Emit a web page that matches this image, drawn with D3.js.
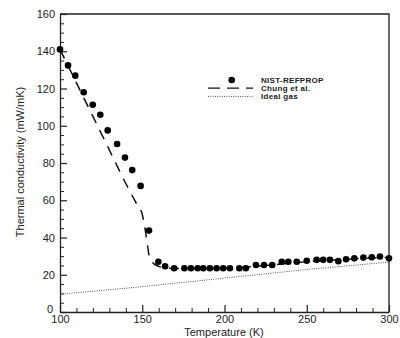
<!DOCTYPE html>
<html>
<head>
<meta charset="utf-8">
<script src="https://cdn.jsdelivr.net/npm/d3@7"></script>
<style>
html,body{margin:0;padding:0;background:#fff;}
svg{display:block;font-family:"Liberation Sans",Arial,Helvetica,sans-serif;}
</style>
</head>
<body>
<svg id="chart" width="400" height="338"></svg>
<script>
// NIST-REFPROP data points
const nistT = [100,104.9,109.3,114.4,119.9,124.5,129,134.7,139.5,143.9,149,154.1,159.8,163.9,169.4,175.6,179.6,183.7,187.1,191.1,195.2,199.2,203.3,209,213,219.1,224,229,234.8,238.8,243.9,250,256,260,264.1,269.2,273.9,278.9,284.4,289.5,294.5,300];
const nistK = [141,132.4,126.9,118,111.3,105.9,97.5,90.2,82.9,76.2,67.7,43.7,27,24.6,23.5,23.5,23.5,23.5,23.5,23.5,23.5,23.5,23.5,23.5,23.5,25.2,25.2,25.2,27,27,27,27.5,28,28,28,27.3,28.3,28.8,29.2,29.4,29.8,28.8];
// Chung et al. curve
const chungT = [100,110,120,130,140,146,150,151,152,153,154,155,157,160,165,170,180,190,200,210,220,230,240,250,260,270,280,290,300];
const chungK = [141,123,105,87,69,59,52.5,48,43,37,31,28,26,24.5,23.6,23.3,23.3,23.4,23.6,24,24.6,25.4,26.2,27,27.6,28.1,28.6,29,29.3];
// Ideal gas curve
const idealT = [100,150,200,228,250,300];
const idealK = [9.5,13.6,18.2,20.8,22.8,26.8];
// Axes
const xMajor = [100,150,200,250,300];
const yMajor = [0,20,40,60,80,100,120,140,160];
const legendLabels = ["NIST-REFPROP","Chung et al.","Ideal gas"];
const xTitle = "Temperature (K)";
const yTitle = "Thermal conductivity (mW/mK)";

const svg = d3.select("#chart");
const x = d3.scaleLinear().domain([100,300]).range([60,389]);
const y = d3.scaleLinear().domain([0,160]).range([312,14]);

const xMinor = d3.range(100,301,10).filter(v => !xMajor.includes(v));
const yMinor = d3.range(0,161,5).filter(v => !yMajor.includes(v));

// frame top/right
svg.append("path")
  .attr("d", `M${x(100)},${y(160)}H${x(300)}V${y(0)}`)
  .attr("fill","none").attr("stroke","#222").attr("stroke-width",1.3);

// minor ticks
svg.append("g").attr("transform",`translate(0,${y(0)})`)
  .call(d3.axisBottom(x).tickValues(xMinor).tickSize(-4).tickFormat(""))
  .call(g => g.select(".domain").remove())
  .selectAll("line").attr("stroke","#222");
svg.append("g").attr("transform",`translate(${x(100)},0)`)
  .call(d3.axisLeft(y).tickValues(yMinor).tickSize(-4).tickFormat(""))
  .call(g => g.select(".domain").remove())
  .selectAll("line").attr("stroke","#222");

// major axes
const gx = svg.append("g").attr("transform",`translate(0,${y(0)})`)
  .call(d3.axisBottom(x).tickValues(xMajor).tickSizeInner(-7).tickSizeOuter(0).tickPadding(3).tickFormat(d3.format("d")));
gx.select(".domain").attr("stroke","#222").attr("stroke-width",1.3);
gx.selectAll("line").attr("stroke","#222").attr("stroke-width",1.2);
gx.selectAll("text").attr("font-size",11).attr("fill","#222").attr("font-family","Liberation Sans, Arial, sans-serif");

const gy = svg.append("g").attr("transform",`translate(${x(100)},0)`)
  .call(d3.axisLeft(y).tickValues(yMajor).tickSizeInner(-7).tickSizeOuter(0).tickPadding(5).tickFormat(d3.format("d")));
gy.select(".domain").attr("stroke","#222").attr("stroke-width",1.3);
gy.selectAll("line").attr("stroke","#222").attr("stroke-width",1.2);
gy.selectAll("text").attr("font-size",11).attr("fill","#222").attr("font-family","Liberation Sans, Arial, sans-serif");
// lift the "0" label slightly so it does not collide with "100"
gy.selectAll(".tick").filter(d => d === 0).select("text").attr("dy","0.05em").attr("x",-7);

// ideal gas dotted line
const lineGen = d3.line().x(d => x(d[0])).y(d => y(d[1]));
svg.append("path")
  .datum(idealT.map((t,i)=>[t,idealK[i]]))
  .attr("d", lineGen)
  .attr("fill","none").attr("stroke","#555").attr("stroke-width",1)
  .attr("stroke-dasharray","1,1.3");

// Chung dashed line
svg.append("path")
  .datum(chungT.map((t,i)=>[t,chungK[i]]))
  .attr("d", d3.line().curve(d3.curveMonotoneX).x(d => x(d[0])).y(d => y(d[1])))
  .attr("fill","none").attr("stroke","#111").attr("stroke-width",1.5)
  .attr("stroke-dasharray","10,8");

// NIST points
svg.append("g").selectAll("circle")
  .data(nistT.map((t,i)=>[t,nistK[i]]))
  .join("circle")
  .attr("cx", d => x(d[0])).attr("cy", d => y(d[1]))
  .attr("r", 3.3).attr("fill","#000");

// legend
const rowY = [80, 88.2, 96.4];
const lg = svg.append("g");
lg.append("circle").attr("cx",231.7).attr("cy",rowY[0]).attr("r",3.3).attr("fill","#000");
lg.append("line").attr("x1",208).attr("x2",253).attr("y1",rowY[1]).attr("y2",rowY[1])
  .attr("stroke","#111").attr("stroke-width",1.3).attr("stroke-dasharray","12,7");
lg.append("line").attr("x1",208).attr("x2",253).attr("y1",rowY[2]).attr("y2",rowY[2])
  .attr("stroke","#555").attr("stroke-width",1).attr("stroke-dasharray","1,1.3");
lg.selectAll("text").data(legendLabels).join("text")
  .attr("x",261).attr("y",(d,i)=>rowY[i]).attr("dy","0.35em")
  .attr("font-size",8).attr("font-weight","bold").attr("fill","#222")
  .attr("letter-spacing",0.3)
  .text(d=>d);

// axis titles
svg.append("text").attr("x",224).attr("y",336).attr("text-anchor","middle")
  .attr("font-size",11).attr("fill","#222").text(xTitle);
svg.append("text").attr("transform","translate(24,162) rotate(-90)").attr("text-anchor","middle")
  .attr("font-size",11).attr("fill","#222").text(yTitle);
</script>
</body>
</html>
